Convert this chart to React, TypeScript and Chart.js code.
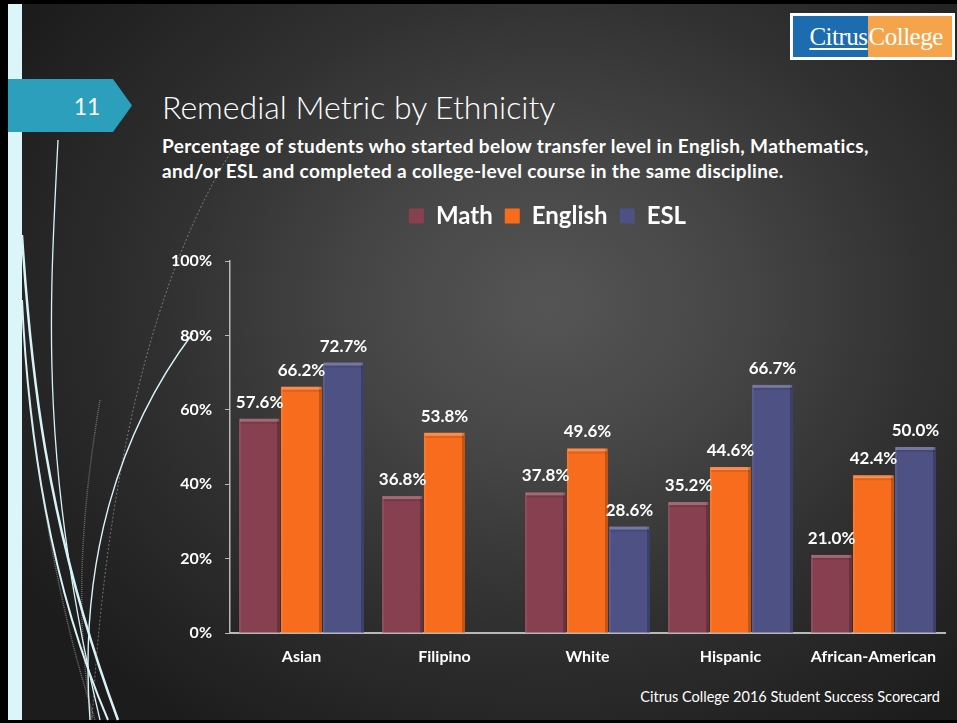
import React, { useEffect, useRef } from 'react';
import { Chart, registerables } from 'chart.js';

Chart.register(...registerables);

// ---- data ----
const categories = ['Asian', 'Filipino', 'White', 'Hispanic', 'African-American'];
const seriesNames = ['Math', 'English', 'ESL'];
const mathValues = [57.6, 36.8, 37.8, 35.2, 21.0];
const englishValues = [66.2, 53.8, 49.6, 44.6, 42.4];
const eslValues: (number | null)[] = [72.7, null, 28.6, 66.7, 50.0];
const yTickValues = [0, 20, 40, 60, 80, 100];
const seriesColors = ['#86404F', '#F76D1D', '#4E5184'];

const FONT = 'Lato, "Open Sans", sans-serif';

const legendSpacer = {
  id: 'legendSpacer',
  beforeLayout(chart: any) {
    const lg = chart.legend;
    if (lg && !lg._patched) {
      const orig = lg.fit.bind(lg);
      lg.fit = () => {
        orig();
        lg.height += 23;
      };
      lg._patched = true;
    }
  },
};

const bevelAndLabels = {
  id: 'bevelAndLabels',
  afterDatasetsDraw(chart: any) {
    const ctx = chart.ctx;
    chart.data.datasets.forEach((ds: any, di: number) => {
      const meta = chart.getDatasetMeta(di);
      meta.data.forEach((el: any, i: number) => {
        const v = ds.data[i];
        if (v === null || v === undefined) return;
        const { x, y, base, width } = el.getProps(['x', 'y', 'base', 'width'], true);
        const l = x - width / 2;
        const r = x + width / 2;
        ctx.save();
        ctx.fillStyle = 'rgba(0,0,0,0.22)';
        ctx.fillRect(r - 3, y, 3, base - y);
        ctx.fillStyle = 'rgba(255,255,255,0.07)';
        ctx.fillRect(l, y, 2, base - y);
        ctx.fillStyle = 'rgba(255,255,255,0.22)';
        ctx.fillRect(l + 1, y, width - 2, 3);
        ctx.fillStyle = 'rgba(0,0,0,0.1)';
        ctx.fillRect(l + 1, y + 3, width - 2, 2);
        ctx.fillStyle = '#ffffff';
        ctx.font = `bold 17px ${FONT}`;
        ctx.textAlign = 'center';
        ctx.textBaseline = 'alphabetic';
        ctx.fillText(Number(v).toFixed(1) + '%', x, y - 11);
        ctx.restore();
      });
    });
  },
};

function BarChart() {
  const ref = useRef<HTMLCanvasElement | null>(null);
  useEffect(() => {
    if (!ref.current) return;
    const data = [mathValues, englishValues, eslValues];
    const chart = new Chart(ref.current, {
      type: 'bar',
      data: {
        labels: categories,
        datasets: seriesNames.map((name, i) => ({
          label: name,
          data: data[i],
          backgroundColor: seriesColors[i],
          borderWidth: 0,
          categoryPercentage: 0.88,
          barPercentage: 0.98,
        })),
      },
      options: {
        responsive: false,
        animation: false,
        devicePixelRatio: 1,
        layout: { padding: { left: 0, right: 23, top: 0, bottom: 0 } },
        plugins: {
          legend: {
            display: true,
            position: 'top',
            labels: {
              color: '#ffffff',
              boxWidth: 15,
              boxHeight: 15,
              padding: 12,
              font: { family: FONT, size: 24, weight: 'bold' },
            },
          },
          tooltip: { enabled: false },
        },
        scales: {
          x: {
            grid: { display: false, drawTicks: false },
            border: { display: true, color: '#b8b8b8', width: 2 },
            ticks: {
              color: '#ffffff',
              padding: 14,
              font: { family: FONT, size: 16, weight: 'bold' },
              maxRotation: 0,
            },
            afterFit: (s: any) => {
              s.height = 49;
            },
          },
          y: {
            min: 0,
            max: 100,
            afterBuildTicks: (s: any) => {
              s.ticks = yTickValues.map((v) => ({ value: v }));
            },
            grid: {
              display: true,
              drawOnChartArea: false,
              drawTicks: true,
              tickLength: 5,
              color: '#b8b8b8',
            },
            border: { display: true, color: '#b8b8b8', width: 1.5 },
            ticks: {
              color: '#ffffff',
              padding: 13,
              font: { family: FONT, size: 16, weight: 'bold' },
              callback: (v: any) => v + '%',
            },
            afterFit: (s: any) => {
              s.width = 80;
            },
          },
        },
      },
      plugins: [legendSpacer, bevelAndLabels],
    } as any);
    return () => chart.destroy();
  }, []);
  return (
    <canvas
      ref={ref}
      width={818}
      height={490}
      style={{ position: 'absolute', left: 150, top: 192, width: 818, height: 490 }}
    />
  );
}

export default function App() {
  return (
    <div
      style={{
        position: 'fixed',
        left: 0,
        top: 0,
        width: 957,
        height: 723,
        overflow: 'hidden',
        background: '#000',
        fontFamily: FONT,
      }}
    >
      <div
        style={{
          position: 'absolute',
          left: 8,
          top: 4,
          width: 949,
          height: 716,
          background:
            'radial-gradient(ellipse 66% 72% at 57% 42%, #555555 0%, #474747 28%, #303030 62%, #1c1c1c 100%)',
        }}
      />
      <div style={{ position: 'absolute', left: 8, top: 4, width: 14, height: 716, background: '#dcf5f9' }} />
      <svg
        width={957}
        height={723}
        style={{ position: 'absolute', left: 0, top: 0, pointerEvents: 'none' }}
      >
        <path d="M 58 140 C 50 300, 38 460, 100 720" stroke="#d8f3f7" strokeWidth={1.3} fill="none" />
        <path d="M 22 235 C 30 360, 44 520, 118 720" stroke="#d8f3f7" strokeWidth={2.5} fill="none" />
        <path d="M 22 300 C 28 430, 48 580, 108 720" stroke="#d8f3f7" strokeWidth={2} fill="none" />
        <path d="M 193 333 C 120 430, 78 560, 90 720" stroke="#d8f3f7" strokeWidth={1.4} fill="none" />
        <path d="M 232 150 C 170 250, 110 420, 92 720" stroke="rgba(210,210,210,0.45)" strokeWidth={1} strokeDasharray="2 2" fill="none" />
        <path d="M 28 380 C 40 500, 62 620, 95 720" stroke="rgba(210,210,210,0.45)" strokeWidth={1.5} strokeDasharray="1 1" fill="none" />
        <path d="M 100 400 C 80 520, 75 620, 92 720" stroke="rgba(210,210,210,0.4)" strokeWidth={1.5} strokeDasharray="1 1" fill="none" />
      </svg>
      <div
        style={{
          position: 'absolute',
          left: 8,
          top: 79,
          width: 124,
          height: 53,
          background: '#2b9fbc',
          clipPath: 'polygon(0 0, 105px 0, 124px 26.5px, 105px 53px, 0 53px)',
        }}
      />
      <div
        style={{
          position: 'absolute',
          left: 60,
          top: 92,
          width: 54,
          textAlign: 'center',
          color: '#fff',
          fontSize: 23,
          lineHeight: '28px',
        }}
      >
        11
      </div>
      <div
        style={{
          position: 'absolute',
          left: 790,
          top: 13,
          width: 159,
          height: 41,
          background: '#fff',
          padding: 3,
          display: 'flex',
        }}
      >
        <div
          style={{
            width: 75,
            background: '#1e6cb0',
            color: '#fff',
            fontFamily: '"Liberation Serif", "DejaVu Serif", serif',
            fontSize: 25,
            lineHeight: '41px',
            textAlign: 'right',
            textDecoration: 'underline',
            textDecorationThickness: 2,
            textUnderlineOffset: 3,
            letterSpacing: -0.5,
          }}
        >
          Citrus
        </div>
        <div
          style={{
            width: 84,
            background: '#f6a44b',
            color: '#fff',
            fontFamily: '"Liberation Serif", "DejaVu Serif", serif',
            fontSize: 25,
            lineHeight: '41px',
            textAlign: 'left',
            paddingLeft: 1,
            letterSpacing: -0.5,
          }}
        >
          College
        </div>
      </div>
      <div
        style={{
          position: 'absolute',
          left: 162,
          top: 87,
          color: '#fff',
          fontSize: 32,
          fontWeight: 300,
          lineHeight: '40px',
          whiteSpace: 'nowrap',
        }}
      >
        Remedial Metric by Ethnicity
      </div>
      <div
        style={{
          position: 'absolute',
          left: 162,
          top: 133,
          color: '#fff',
          fontSize: 19,
          fontWeight: 'bold',
          lineHeight: '25px',
          letterSpacing: 0.35,
          whiteSpace: 'nowrap',
        }}
      >
        Percentage of students who started below transfer level in English, Mathematics,
        <br />
        and/or ESL and completed a college-level course in the same discipline.
      </div>
      <BarChart />
      <div
        style={{
          position: 'absolute',
          right: 17,
          top: 688,
          color: '#fff',
          fontSize: 14.5,
          lineHeight: '18px',
          whiteSpace: 'nowrap',
        }}
      >
        Citrus College 2016 Student Success Scorecard
      </div>
    </div>
  );
}
